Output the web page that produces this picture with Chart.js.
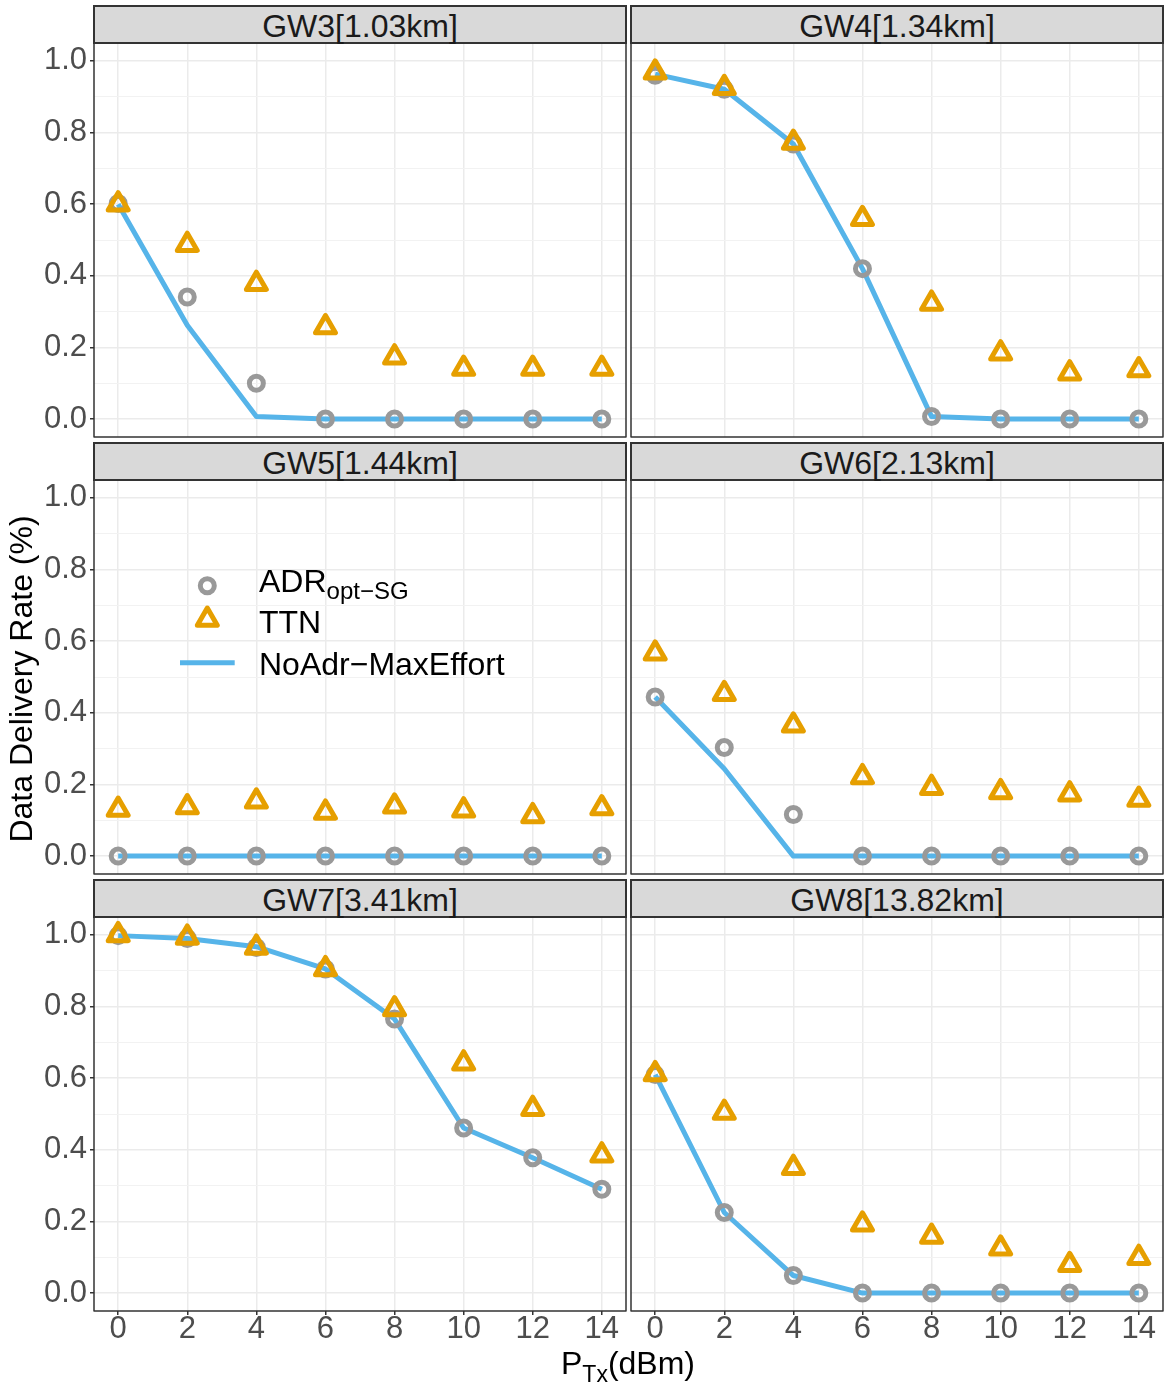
<!DOCTYPE html>
<html>
<head>
<meta charset="utf-8">
<script src="https://cdn.jsdelivr.net/npm/chart.js@4.4.1/dist/chart.umd.min.js"></script>
<style>
  body { margin: 0; background: #fff; width: 1168px; height: 1386px; position: relative; overflow: hidden;
         font-family: "Liberation Sans", Arial, Helvetica, sans-serif; }
  canvas { position: absolute; }
  .strip { position: absolute; box-sizing: border-box; background: #D9D9D9; border: 2px solid #333;
           color: #1A1A1A; font-size: 32px; line-height: 32px; text-align: center; padding-top: 3px; z-index: 2; }
  .txt { position: absolute; white-space: nowrap; font-size: 32px; line-height: 32px; color: #000; z-index: 3; }
  .sub { font-size: 24px; position: relative; top: 7px; }
</style>
</head>
<body>
<div id="root"></div>
<script>
// data (x = transmit power in dBm)
const pTx = [0, 2, 4, 6, 8, 10, 12, 14];
const xTicks = [0, 2, 4, 6, 8, 10, 12, 14];
const yTicks = [0, 0.1, 0.2, 0.3, 0.4, 0.5, 0.6, 0.7, 0.8, 0.9, 1.0];
const yTickLabels = ['0.0', '', '0.2', '', '0.4', '', '0.6', '', '0.8', '', '1.0'];
const gateways = ['GW3[1.03km]', 'GW4[1.34km]', 'GW5[1.44km]', 'GW6[2.13km]', 'GW7[3.41km]', 'GW8[13.82km]'];

// ADR opt-SG (grey circles), one row per gateway
const adrOptSG = [
  [0.602, 0.341, 0.100, 0, 0, 0, 0, 0],
  [0.960, 0.921, 0.768, 0.420, 0.007, 0, 0, 0],
  [0, 0, 0, 0, 0, 0, 0, 0],
  [0.444, 0.303, 0.116, 0, 0, 0, 0, 0],
  [0.998, 0.990, 0.965, 0.905, 0.765, 0.461, 0.378, 0.290],
  [0.610, 0.225, 0.049, 0, 0, 0, 0, 0]
];
// TTN (orange triangles)
const ttn = [
  [0.600, 0.487, 0.378, 0.257, 0.173, 0.141, 0.141, 0.141],
  [0.968, 0.925, 0.772, 0.559, 0.323, 0.184, 0.128, 0.137],
  [0.130, 0.137, 0.153, 0.122, 0.139, 0.128, 0.112, 0.134],
  [0.566, 0.453, 0.365, 0.221, 0.191, 0.179, 0.173, 0.158],
  [1.000, 0.993, 0.965, 0.905, 0.793, 0.642, 0.515, 0.385],
  [0.612, 0.504, 0.350, 0.192, 0.158, 0.125, 0.079, 0.099]
];
// NoAdr-MaxEffort (blue line)
const noAdrMaxEffort = [
  [0.600, 0.262, 0.007, 0, 0, 0, 0, 0],
  [0.963, 0.921, 0.768, 0.420, 0.007, 0, 0, 0],
  [0, 0, 0, 0, 0, 0, 0, 0],
  [0.444, 0.244, 0, 0, 0, 0, 0, 0],
  [0.998, 0.990, 0.967, 0.905, 0.765, 0.461, 0.378, 0.290],
  [0.610, 0.225, 0.049, 0, 0, 0, 0, 0]
];

const FONT = '"Liberation Sans", Arial, Helvetica, sans-serif';
const colLeft = [94, 631];
const rowTop = [43, 480, 917];
const panelW = 532, panelH = 394;
const yAxisW = 60, xAxisH = 48, pad = 3;

const root = document.getElementById('root');

const isMajor = v => yTickLabels[yTicks.indexOf(v)] !== '';

// panel frame on top of the data, like panel.border in theme_bw
const panelBorder = {
  id: 'panelBorder',
  beforeDatasetsDraw(chart) { chart.ctx.lineJoin = 'round'; },
  afterDraw(chart) {
    const { ctx, chartArea: a } = chart;
    ctx.save();
    ctx.strokeStyle = '#333333';
    ctx.lineWidth = 1.5;
    ctx.strokeRect(a.left, a.top, a.right - a.left, a.bottom - a.top);
    ctx.restore();
  }
};

const pts = arr => pTx.map((x, j) => ({ x, y: arr[j] }));

gateways.forEach((name, i) => {
  const col = i % 2, row = Math.floor(i / 2);
  const showY = col === 0, showX = row === 2;
  const left = colLeft[col] - pad - (showY ? yAxisW : 0);
  const top = rowTop[row] - pad;
  const w = panelW + 2 * pad + (showY ? yAxisW : 0);
  const h = panelH + 2 * pad + (showX ? xAxisH : 0);

  const cv = document.createElement('canvas');
  cv.width = w; cv.height = h;
  cv.style.left = left + 'px'; cv.style.top = top + 'px';
  cv.style.width = w + 'px'; cv.style.height = h + 'px';
  root.appendChild(cv);

  const strip = document.createElement('div');
  strip.className = 'strip';
  strip.textContent = name;
  strip.style.left = (colLeft[col] - 1) + 'px';
  strip.style.top = (rowTop[row] - 38) + 'px';
  strip.style.width = (panelW + 2) + 'px';
  strip.style.height = '39px';
  root.appendChild(strip);

  new Chart(cv, {
    type: 'scatter',
    data: {
      datasets: [
        { label: 'TTN', data: pts(ttn[i]), showLine: false, pointStyle: 'triangle', pointRadius: 11.5,
          pointBorderWidth: 5, pointBorderColor: '#E69F00', pointBackgroundColor: 'rgba(0,0,0,0)' },
        { label: 'ADR opt-SG', data: pts(adrOptSG[i]), showLine: false, pointStyle: 'circle', pointRadius: 7,
          pointBorderWidth: 5, pointBorderColor: '#999999', pointBackgroundColor: 'rgba(0,0,0,0)' },
        { label: 'NoAdr-MaxEffort', data: pts(noAdrMaxEffort[i]), showLine: true, borderColor: '#56B4E9',
          borderWidth: 5, borderJoinStyle: 'round', pointRadius: 0, tension: 0 }
      ]
    },
    options: {
      responsive: false, animation: false, devicePixelRatio: 1,
      layout: { padding: pad, autoPadding: false },
      plugins: { legend: { display: false }, tooltip: { enabled: false } },
      scales: {
        x: {
          type: 'linear', min: -0.7, max: 14.7,
          afterBuildTicks: s => { s.ticks = xTicks.map(v => ({ value: v })); },
          afterFit: s => { s.height = showX ? xAxisH : 0; s.paddingLeft = 0; s.paddingRight = 0; },
          border: { display: false },
          grid: { color: '#EBEBEB', lineWidth: 1.5, drawTicks: showX, tickLength: 4, tickColor: '#333333', tickWidth: 1.5 },
          ticks: { display: showX, autoSkip: false, maxRotation: 0, padding: 2.5, color: '#4D4D4D',
                   font: { family: FONT, size: 31, lineHeight: 0.75 }, callback: v => String(v) }
        },
        y: {
          type: 'linear', min: -0.05, max: 1.05,
          afterBuildTicks: s => { s.ticks = yTicks.map(v => ({ value: v })); },
          afterFit: s => { s.width = showY ? yAxisW : 0; s.paddingTop = 0; s.paddingBottom = 0; },
          border: { display: false },
          grid: {
            color: c => isMajor(c.tick.value) ? '#EBEBEB' : '#F2F2F2',
            lineWidth: c => isMajor(c.tick.value) ? 1.5 : 1,
            drawTicks: showY, tickLength: 4, tickWidth: 1.5,
            tickColor: c => isMajor(c.tick.value) ? '#333333' : 'rgba(0,0,0,0)'
          },
          ticks: { display: showY, autoSkip: false, padding: 3, color: '#4D4D4D',
                   font: { family: FONT, size: 31 }, callback: (v, k) => yTickLabels[k] }
        }
      }
    },
    plugins: [panelBorder]
  });
});
</script>

<!-- legend placed inside the GW5 panel -->
<svg style="position:absolute;left:170px;top:570px;z-index:3" width="80" height="110">
  <circle cx="37.3" cy="15.7" r="7" fill="none" stroke="#999999" stroke-width="5"/>
  <polygon points="37.3,38 47.26,55.25 27.34,55.25" fill="none" stroke="#E69F00" stroke-width="5" stroke-linejoin="round"/>
  <line x1="10" y1="92.7" x2="64.7" y2="92.7" stroke="#56B4E9" stroke-width="5"/>
</svg>
<div class="txt" style="left:259px;top:565px">ADR<span class="sub">opt−SG</span></div>
<div class="txt" style="left:259px;top:606px">TTN</div>
<div class="txt" style="left:259px;top:648px">NoAdr−MaxEffort</div>

<!-- axis titles -->
<div class="txt" style="left:428px;width:400px;text-align:center;top:1347px">P<span class="sub" style="font-size:23px;top:8px">Tx</span>(dBm)</div>
<div class="txt" style="left:-179px;width:400px;text-align:center;top:663px;transform:rotate(-90deg)">Data Delivery Rate (%)</div>
</body>
</html>
